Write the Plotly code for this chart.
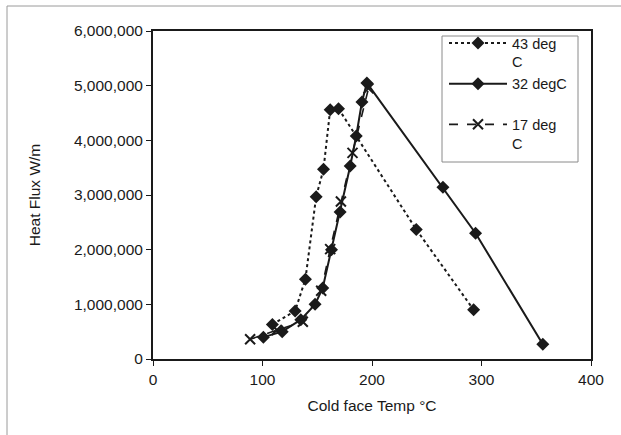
import plotly.graph_objects as go

# Cold face temperature (°C) and heat flux (W/m) for three coolant temperatures
t43 = [109, 129.8, 139.2, 149, 155.7, 161.8, 169.4, 240.4, 292.8]
q43 = [630000, 880000, 1460000, 2970000, 3470000, 4560000, 4580000, 2370000, 900000]

t32 = [100.8, 118, 135, 148, 155, 163, 170.9, 180.1, 185.6, 190.8, 195.3, 264.8, 294.6, 356]
q32 = [400000, 500000, 720000, 1000000, 1300000, 2000000, 2690000, 3530000, 4080000,
       4700000, 5050000, 3140000, 2300000, 270000]

t17 = [88.7, 113.1, 136.8, 153.6, 161.8, 171.6, 182.2, 196.8]
q17 = [360000, 530000, 680000, 1250000, 2010000, 2880000, 3770000, 4950000]

names = ["43 deg<br>C", "32 degC<br>\u00a0", "17 deg<br>C"]
x_ticks = [0, 100, 200, 300, 400]
y_ticks = [0, 1000000, 2000000, 3000000, 4000000, 5000000, 6000000]

ink = "#1a1a1a"
font = dict(family="Arial, Liberation Sans, sans-serif", size=15.5, color=ink)
legend_font = dict(family="Arial, Liberation Sans, sans-serif", size=14.5, color=ink)

fig = go.Figure()
fig.add_trace(go.Scatter(
    x=t43, y=q43, name=names[0], mode="lines+markers",
    line=dict(color=ink, width=2, dash="dot"),
    marker=dict(symbol="diamond", size=10, color=ink)))
fig.add_trace(go.Scatter(
    x=t32, y=q32, name=names[1], mode="lines+markers",
    line=dict(color=ink, width=2),
    marker=dict(symbol="diamond", size=10, color=ink)))
fig.add_trace(go.Scatter(
    x=t17, y=q17, name=names[2], mode="lines+markers",
    line=dict(color=ink, width=1.6, dash="dash"),
    marker=dict(symbol="x-thin-open", size=10, color=ink,
                line=dict(color=ink, width=2))))

L, R, T, B = 153, 30, 31, 76
W, H = 621, 435
pw, ph = W - L - R, H - T - B

def px(x):
    return (x - L) / pw

def py(y):
    return (H - B - y) / ph

# Outer chart frame (grey)
frame = dict(color="#9a9a9a", width=1)
fig.add_shape(type="line", xref="paper", yref="paper",
              x0=px(7), y0=py(6), x1=px(621), y1=py(6), line=frame)
fig.add_shape(type="line", xref="paper", yref="paper",
              x0=px(7), y0=py(6), x1=px(7), y1=py(435), line=frame)

# Legend box
fig.add_shape(type="rect", xref="paper", yref="paper",
              x0=px(442), y0=py(36), x1=px(578), y1=py(162),
              line=dict(color="#8a8a8a", width=1), fillcolor="white", layer="above")

axis_common = dict(showgrid=False, zeroline=False, showline=True, mirror=True,
                   linecolor=ink, linewidth=2, ticks="outside", ticklen=5,
                   tickcolor=ink, tickfont=font)

fig.update_xaxes(range=[0, 400], tickvals=x_ticks,
                 title=dict(text="Cold face Temp °C", font=font, standoff=14),
                 **axis_common)
fig.update_yaxes(range=[0, 6000000], tickvals=y_ticks, tickformat=",d",
                 title=dict(text="Heat Flux W/m", font=font, standoff=30),
                 **axis_common)

fig.update_layout(
    width=W, height=H,
    margin=dict(l=L, r=R, t=T, b=B),
    paper_bgcolor="white", plot_bgcolor="white",
    font=font,
    showlegend=True,
    legend=dict(x=px(444), y=py(27), xanchor="left", yanchor="top",
                bgcolor="rgba(0,0,0,0)", borderwidth=0,
                valign="top", font=legend_font, itemwidth=58,
                tracegroupgap=0),
)

fig.write_html("out.html")
